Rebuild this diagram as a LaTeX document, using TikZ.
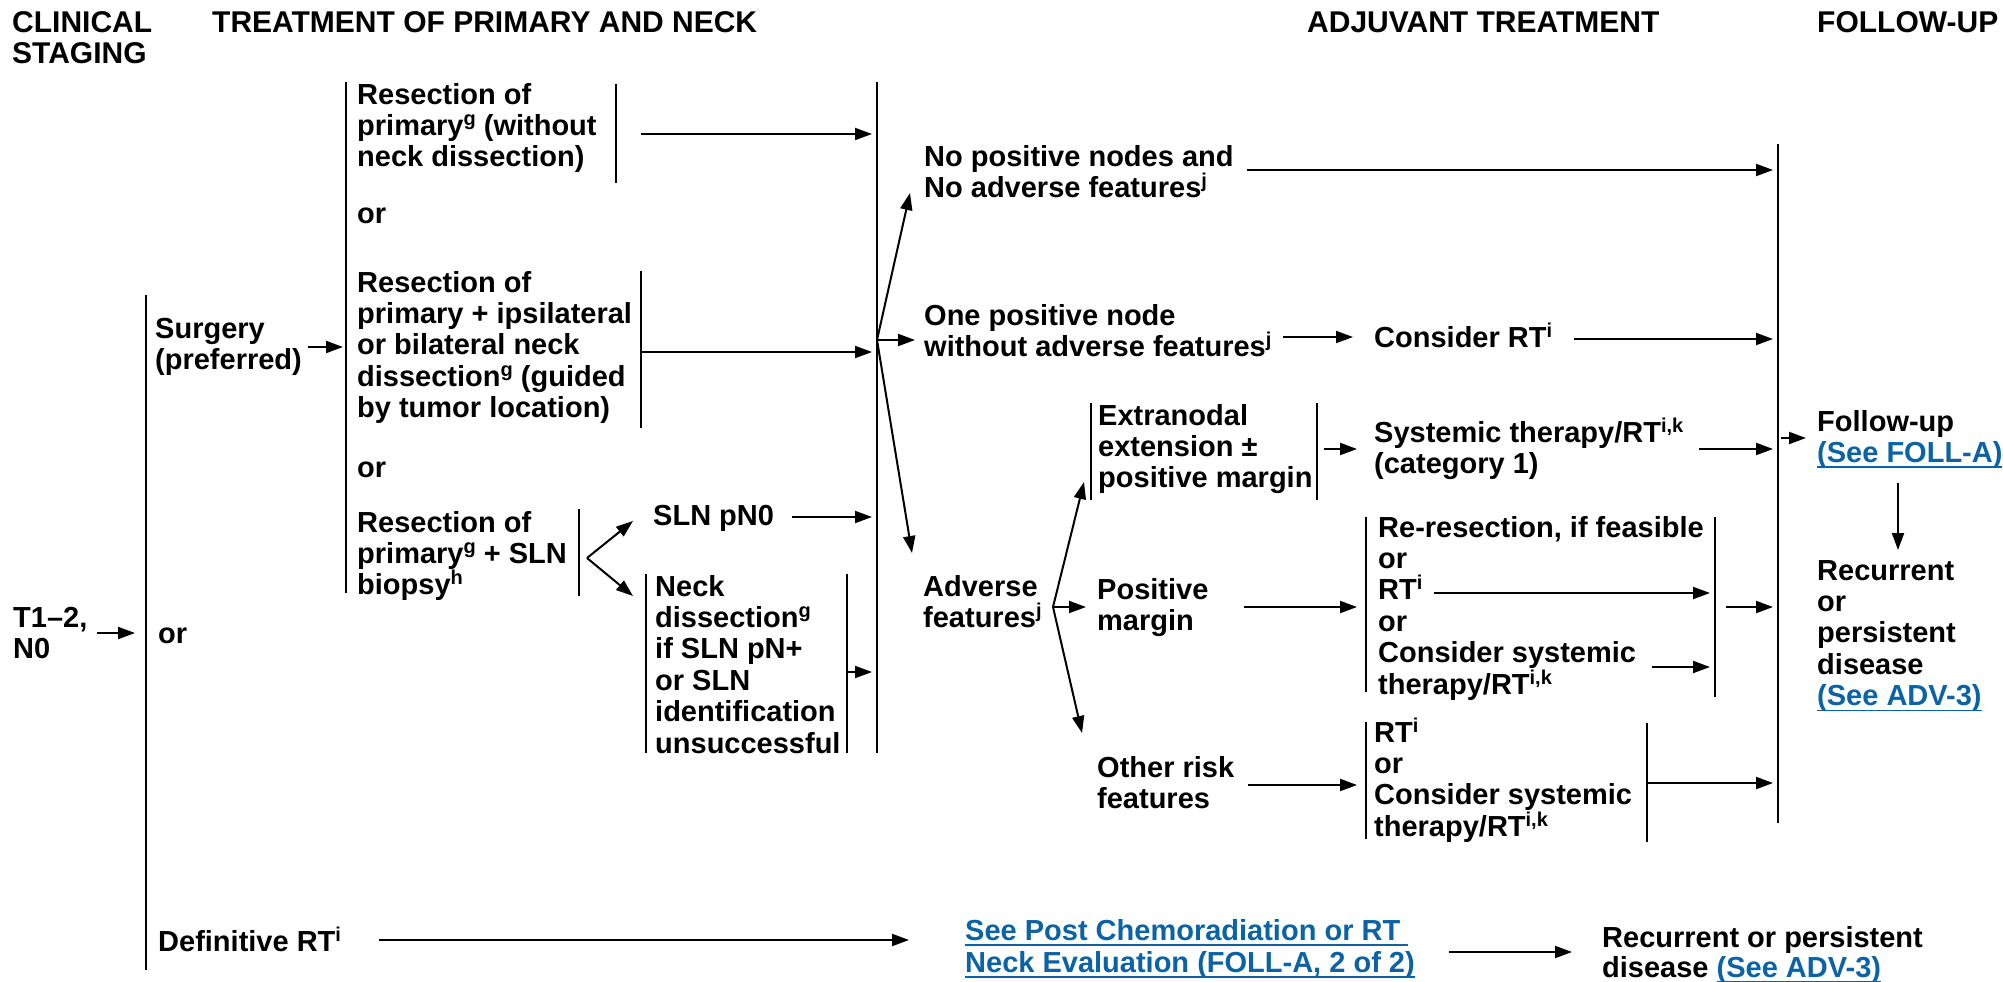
\documentclass[tikz,border=0pt]{standalone}
\usepackage{fontspec}
\setmainfont{Liberation Sans}
\usetikzlibrary{arrows.meta}
\definecolor{lnkblue}{HTML}{0B63A5}
\newsavebox\lnkbox
% blue underlined cross reference
\newcommand\lnk[1]{\sbox\lnkbox{\color{lnkblue}#1}{\color{lnkblue}\rlap{\rule[-5.5pt]{\wd\lnkbox}{1.6pt}}}\usebox\lnkbox}
% footnote marker
\newcommand\fn[1]{\raisebox{10pt}{\fontsize{20}{20}\selectfont #1}}
% left-aligned multi-line block whose baseline is the first line
\newcommand\ml[1]{\vtop{\lineskiplimit=-100pt\halign{##\hfil\cr#1\crcr}}}
\tikzset{
  txt/.style={anchor=base west, inner sep=0pt, font=\fontsize{29}{31.4}\selectfont\bfseries},
  hd/.style={anchor=base west, inner sep=0pt, font=\fontsize{30}{31}\selectfont\bfseries},
  bar/.style={line width=2pt},
  arr/.style={line width=2pt, -{Triangle[length=17pt,width=12pt]}},
}
\begin{document}
\begin{tikzpicture}[x=1pt,y=-1pt]
\useasboundingbox (0,0) rectangle (2003,982);
% column headings
\node[hd] (hClin) at (12,33) {\ml{CLINICAL\cr STAGING}};
\node[hd] (hTreat) at (212,33) {TREATMENT OF PRIMARY AND NECK};
\node[hd] (hAdj) at (1307,33) {ADJUVANT TREATMENT};
\node[hd] (hFol) at (1817,33) {FOLLOW-UP};

% clinical staging
\node[txt] (stage) at (13,627) {\ml{T1–2,\cr N0}};
\coordinate (stageA) at (97,633); \coordinate (stageB) at (135,633);
\draw[arr] (stageA) -- (stageB);
\coordinate (b0t) at (146,295); \coordinate (b0b) at (146,970);
\draw[bar] (b0t) -- (b0b);
\node[txt] (surg) at (155,338) {\ml{Surgery\cr (preferred)}};
\node[txt] (or0) at (158,643) {or};
\node[txt] (defrt) at (158,951) {Definitive RT\fn{i}};

% surgical options
\coordinate (surgA) at (308,347); \coordinate (surgB) at (343,347);
\draw[arr] (surgA) -- (surgB);
\coordinate (b1t) at (346,82); \coordinate (b1b) at (346,593);
\draw[bar] (b1t) -- (b1b);
\node[txt] (res1) at (357,104) {\ml{Resection of\cr primary\fn{g} (without\cr neck dissection)}};
\coordinate (r1t) at (616,84); \coordinate (r1b) at (616,183);
\draw[bar] (r1t) -- (r1b);
\node[txt] (or1) at (357,223) {or};
\node[txt] (res2) at (357,292) {\ml{Resection of\cr primary + ipsilateral\cr or bilateral neck\cr dissection\fn{g} (guided\cr by tumor location)}};
\coordinate (r2t) at (641,271); \coordinate (r2b) at (641,428);
\draw[bar] (r2t) -- (r2b);
\node[txt] (or2) at (357,477) {or};
\node[txt] (res3) at (357,532) {\ml{Resection of\cr primary\fn{g} + SLN\cr biopsy\fn{h}}};
\coordinate (r3t) at (579,509); \coordinate (r3b) at (579,596);
\draw[bar] (r3t) -- (r3b);

% sentinel node branches
\coordinate (fork) at (587,558);
\coordinate (forkU) at (633,521); \coordinate (forkD) at (633,596);
\draw[arr] (fork) -- (forkU);
\draw[arr] (fork) -- (forkD);
\node[txt] (pn0) at (653,525) {SLN pN0};
\node[txt] (neck) at (655,596) {\ml{Neck\cr dissection\fn{g}\cr if SLN pN+\cr or SLN\cr identification\cr unsuccessful}};
\coordinate (nkLt) at (646,574); \coordinate (nkLb) at (646,753);
\coordinate (nkRt) at (847,574); \coordinate (nkRb) at (847,753);
\draw[bar] (nkLt) -- (nkLb);
\draw[bar] (nkRt) -- (nkRb);

% collecting bar after surgery
\coordinate (b2t) at (877,82); \coordinate (b2b) at (877,753);
\draw[bar] (b2t) -- (b2b);
\coordinate (a1s) at (641,134); \coordinate (a1e) at (872,134);
\draw[arr] (a1s) -- (a1e);
\coordinate (a2s) at (641,352); \coordinate (a2e) at (872,352);
\draw[arr] (a2s) -- (a2e);
\coordinate (a3s) at (792,517); \coordinate (a3e) at (872,517);
\draw[arr] (a3s) -- (a3e);
\coordinate (a4s) at (847,672); \coordinate (a4e) at (872,672);
\draw[arr] (a4s) -- (a4e);

% pathology fan
\coordinate (fan) at (877,340);
\coordinate (fanU) at (910,193); \coordinate (fanR) at (915,340); \coordinate (fanD) at (912,553);
\draw[arr] (fan) -- (fanU);
\draw[arr] (fan) -- (fanR);
\draw[arr] (fan) -- (fanD);
\node[txt] (noPos) at (924,166) {\ml{No positive nodes and\cr No adverse features\fn{j}}};
\node[txt] (onePos) at (924,325) {\ml{One positive node\cr without adverse features\fn{j}}};
\node[txt] (adv) at (923,596) {\ml{Adverse\cr features\fn{j}}};

% adjuvant treatment
\coordinate (n1s) at (1247,170); \coordinate (n1e) at (1773,170);
\draw[arr] (n1s) -- (n1e);
\coordinate (o1s) at (1283,337); \coordinate (o1e) at (1353,337);
\draw[arr] (o1s) -- (o1e);
\node[txt] (conRT) at (1374,347) {Consider RT\fn{i}};
\coordinate (o2s) at (1574,339); \coordinate (o2e) at (1773,339);
\draw[arr] (o2s) -- (o2e);

\coordinate (fan2) at (1053,607);
\coordinate (fan2U) at (1084,482); \coordinate (fan2R) at (1086,607); \coordinate (fan2D) at (1082,733);
\draw[arr] (fan2) -- (fan2U);
\draw[arr] (fan2) -- (fan2R);
\draw[arr] (fan2) -- (fan2D);

\node[txt] (ene) at (1098,425) {\ml{Extranodal\cr extension ±\cr positive margin}};
\coordinate (eLt) at (1091,403); \coordinate (eLb) at (1091,500);
\coordinate (eRt) at (1317,403); \coordinate (eRb) at (1317,500);
\draw[bar] (eLt) -- (eLb);
\draw[bar] (eRt) -- (eRb);
\coordinate (e1s) at (1324,449); \coordinate (e1e) at (1357,449);
\draw[arr] (e1s) -- (e1e);
\node[txt] (sys) at (1374,442) {\ml{Systemic therapy/RT\fn{i,k}\cr (category 1)}};
\coordinate (e2s) at (1699,449); \coordinate (e2e) at (1773,449);
\draw[arr] (e2s) -- (e2e);

\node[txt] (posm) at (1097,599) {\ml{Positive\cr margin}};
\coordinate (p1s) at (1244,607); \coordinate (p1e) at (1357,607);
\draw[arr] (p1s) -- (p1e);
\node[txt] (reres) at (1378,537) {\ml{Re-resection, if feasible\cr or\cr RT\fn{i}\cr or\cr Consider systemic\cr therapy/RT\fn{i,k}}};
\coordinate (pLt) at (1366,517); \coordinate (pLb) at (1366,692);
\coordinate (pRt) at (1715,517); \coordinate (pRb) at (1715,697);
\draw[bar] (pLt) -- (pLb);
\draw[bar] (pRt) -- (pRb);
\coordinate (p2s) at (1434,593); \coordinate (p2e) at (1710,593);
\draw[arr] (p2s) -- (p2e);
\coordinate (p3s) at (1652,667); \coordinate (p3e) at (1710,667);
\draw[arr] (p3s) -- (p3e);
\coordinate (p4s) at (1726,607); \coordinate (p4e) at (1773,607);
\draw[arr] (p4s) -- (p4e);

\node[txt] (oth) at (1097,777) {\ml{Other risk\cr features}};
\coordinate (t1s) at (1248,785); \coordinate (t1e) at (1357,785);
\draw[arr] (t1s) -- (t1e);
\node[txt] (othTx) at (1374,742) {\ml{RT\fn{i}\cr or\cr Consider systemic\cr therapy/RT\fn{i,k}}};
\coordinate (tLt) at (1366,722); \coordinate (tLb) at (1366,839);
\coordinate (tRt) at (1647,723); \coordinate (tRb) at (1647,842);
\draw[bar] (tLt) -- (tLb);
\draw[bar] (tRt) -- (tRb);
\coordinate (t2s) at (1647,783); \coordinate (t2e) at (1773,783);
\draw[arr] (t2s) -- (t2e);

% follow-up
\coordinate (b3t) at (1778,144); \coordinate (b3b) at (1778,823);
\draw[bar] (b3t) -- (b3b);
\coordinate (f1s) at (1781,438); \coordinate (f1e) at (1806,438);
\draw[arr] (f1s) -- (f1e);
\node[txt] (fol) at (1817,431) {\ml{Follow-up\cr \lnk{(See FOLL-A)}}};
\coordinate (f2s) at (1898,483); \coordinate (f2e) at (1898,550);
\draw[arr] (f2s) -- (f2e);
\node[txt] (rec) at (1817,580) {\ml{Recurrent\cr or\cr persistent\cr disease\cr \lnk{(See ADV-3)}}};

% definitive radiotherapy path
\coordinate (d1s) at (379,940); \coordinate (d1e) at (909,940);
\draw[arr] (d1s) -- (d1e);
\node[txt, font=\fontsize{29}{32}\selectfont\bfseries] (post) at (965,940) {\ml{\lnk{See Post Chemoradiation or RT\ }\cr \lnk{Neck Evaluation (FOLL-A, 2 of 2)}}};
\coordinate (d2s) at (1449,952); \coordinate (d2e) at (1572,952);
\draw[arr] (d2s) -- (d2e);
\node[txt, font=\fontsize{29}{30}\selectfont\bfseries] (rec2) at (1602,947) {\ml{Recurrent or persistent\cr disease \lnk{(See ADV-3)}}};
\end{tikzpicture}
\end{document}
